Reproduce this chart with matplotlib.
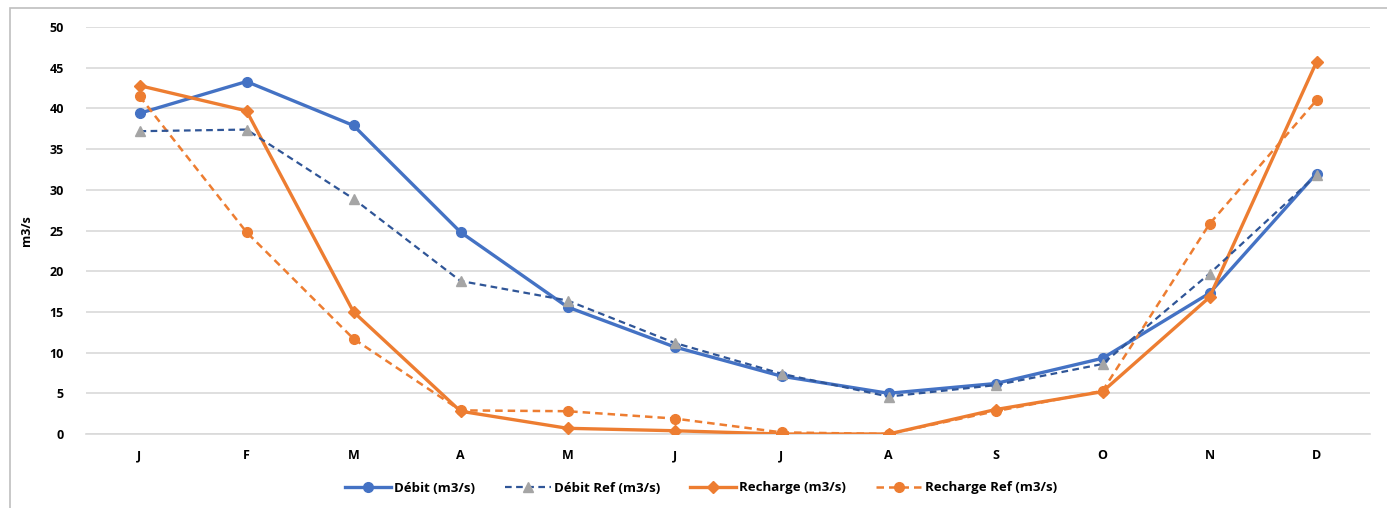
import matplotlib
matplotlib.use("Agg")
import matplotlib.pyplot as plt
from matplotlib.patches import Rectangle

months = ["J", "F", "M", "A", "M", "J", "J", "A", "S", "O", "N", "D"]
debit = [39.4, 43.3, 37.9, 24.8, 15.6, 10.7, 7.1, 5.0, 6.2, 9.3, 17.3, 32.0]
debit_ref = [37.2, 37.4, 28.9, 18.8, 16.4, 11.2, 7.4, 4.6, 6.0, 8.6, 19.7, 31.8]
recharge = [42.8, 39.7, 15.0, 2.8, 0.7, 0.4, 0.0, 0.0, 3.0, 5.2, 16.8, 45.7]
recharge_ref = [41.5, 24.8, 11.7, 2.9, 2.8, 1.9, 0.2, 0.0, 2.8, 5.3, 25.8, 41.0]
yticks = [0, 5, 10, 15, 20, 25, 30, 35, 40, 45, 50]

plt.rcParams['font.family'] = ['Open Sans', 'DejaVu Sans']

W, H = 1387, 508
fig = plt.figure(figsize=(W / 100, H / 100), dpi=100)
fig.patches.append(Rectangle((10 / W, -0.1), 1.2, 1 - 8 / H + 0.1, transform=fig.transFigure,
                             fill=False, edgecolor="#BFBFBF", linewidth=1.2))
ax = fig.add_axes([86 / W, 1 - 434 / H, (1370 - 86) / W, (434 - 27) / H])

x = list(range(len(months)))
ax.plot(x, debit, color="#4472C4", lw=2.4, marker="o", ms=7, label="Débit (m3/s)", zorder=3)
ax.plot(x, debit_ref, color="#2F5597", lw=1.6, ls=(0, (3, 2)), marker="^", ms=7,
        mfc="#A5A5A5", mec="#A5A5A5", label="Débit Ref (m3/s)", zorder=4)
ax.plot(x, recharge, color="#ED7D31", lw=2.4, marker="D", ms=6, label="Recharge (m3/s)", zorder=3)
ax.plot(x, recharge_ref, color="#ED7D31", lw=1.8, ls=(0, (3, 2)), marker="o", ms=7,
        label="Recharge Ref (m3/s)", zorder=3)

ax.set_xlim(-0.5, 11.5)
ax.set_ylim(0, 50)
ax.set_yticks(yticks)
ax.set_xticks(x)
ax.set_xticklabels(months)
ax.grid(axis="y", color="#D9D9D9", lw=1.2)
ax.set_axisbelow(True)
for s in ["top", "right", "left"]:
    ax.spines[s].set_visible(False)
ax.spines["bottom"].set_color("#D9D9D9")
ax.spines["bottom"].set_linewidth(1.2)
ax.tick_params(length=0, labelsize=9, colors="#000000", pad=11)
ax.tick_params(axis="y", pad=16)
for lab in ax.get_xticklabels() + ax.get_yticklabels():
    lab.set_fontweight("bold")
ax.set_ylabel("m3/s", fontsize=9, fontweight="bold", labelpad=12)

leg = fig.legend(loc="center", bbox_to_anchor=(701 / W, 1 - 488 / H), ncol=4, frameon=False,
                 prop={"size": 9.5, "weight": "bold"}, handlelength=3.5, columnspacing=2.3,
                 handletextpad=0.2)
fig.savefig("out.png", dpi=100)
